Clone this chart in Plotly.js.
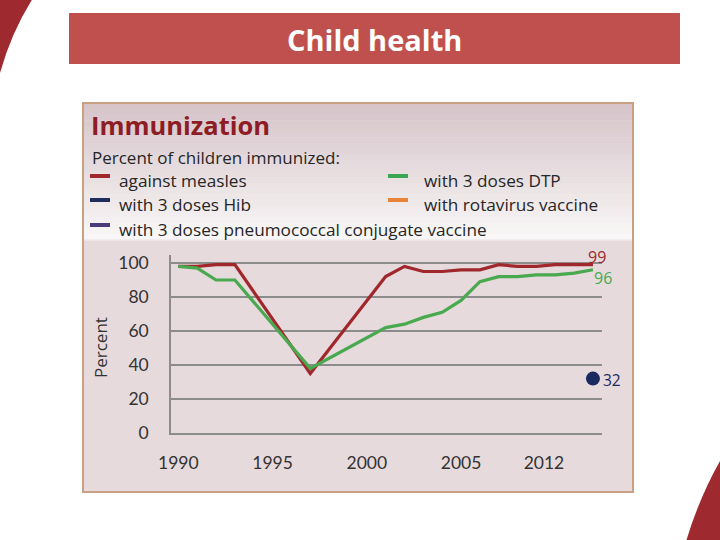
<!DOCTYPE html>
<html>
<head>
<meta charset="utf-8">
<script src="https://cdn.plot.ly/plotly-3.0.1.min.js"></script>
<style>
  html, body { margin: 0; padding: 0; background: #ffffff; }
  #chart { width: 720px; height: 540px; }
</style>
</head>
<body>
<div id="chart"></div>
<script>
// ---- Data ----
const measlesYears = [1990, 1991, 1992, 1993, 1997, 2001, 2002, 2003, 2004, 2005, 2006, 2007, 2008, 2009, 2010, 2011, 2012];
const measlesValues = [98, 98, 99, 99, 35, 92, 98, 95, 95, 96, 96, 99, 98, 98, 99, 99, 99];

const dtpYears = [1990, 1991, 1992, 1993, 1997, 2001, 2002, 2003, 2004, 2005, 2006, 2007, 2008, 2009, 2010, 2011, 2012];
const dtpValues = [98, 97, 90, 90, 38, 62, 64, 68, 71, 78, 89, 92, 92, 93, 93, 94, 96];

const hibYears = [2012];
const hibValues = [32];

const tickPositions = [1990, 1995, 2000, 2005, 2009.4];
const tickLabels = ['1990', '1995', '2000', '2005', '2012'];
const yTicks = [0, 20, 40, 60, 80, 100];

const legendLeft = ['against measles', 'with 3 doses Hib', 'with 3 doses pneumococcal conjugate vaccine'];
const legendLeftColors = ['#a0282d', '#1f2d5c', '#4b3a7a'];
const legendRight = ['with 3 doses DTP', 'with rotavirus vaccine'];
const legendRightColors = ['#3aa650', '#e8833a'];

// ---- Colours / layout ----
const RED = '#a0282d', GREEN = '#48a94f', NAVY = '#1b2a5e';
const SANS = '"Open Sans", Lato, sans-serif';
const TICKF = 'Lato, "Open Sans", sans-serif';
const W = 720, H = 540;
const M = { l: 171, r: 118, t: 255, b: 107 };
const PW = W - M.l - M.r, PH = H - M.t - M.b;
const px = x => (x - M.l) / PW;
const py = y => (H - M.b - y) / PH;
const P = (x, y) => px(x).toFixed(5) + ',' + py(y).toFixed(5);

const shapes = [];
const annotations = [];

function rect(x0, y0, x1, y1, fill, lineColor, lineWidth) {
  shapes.push({
    type: 'rect', xref: 'paper', yref: 'paper', layer: 'below',
    x0: px(x0), x1: px(x1), y0: py(y1), y1: py(y0),
    fillcolor: fill,
    line: { color: lineColor || 'rgba(0,0,0,0)', width: lineWidth || 0 }
  });
}
function text(x, y, t, opts) {
  annotations.push(Object.assign({
    xref: 'paper', yref: 'paper', x: px(x), y: py(y), text: t, showarrow: false,
    xanchor: 'left', yanchor: 'middle',
    font: { family: SANS, size: 16, color: '#262626' }
  }, opts));
}

// decorative crescents
shapes.push({ type: 'path', xref: 'paper', yref: 'paper', layer: 'below',
  path: 'M ' + P(-5, -5) + ' L ' + P(35, -5) + ' Q ' + P(12, 30) + ' ' + P(0, 73) + ' L ' + P(-5, 73) + ' Z',
  fillcolor: '#9e2a2f', line: { width: 0 } });
shapes.push({ type: 'path', xref: 'paper', yref: 'paper', layer: 'below',
  path: 'M ' + P(725, 460) + ' L ' + P(720, 461) + ' Q ' + P(698, 500) + ' ' + P(685, 545) + ' L ' + P(725, 545) + ' Z',
  fillcolor: '#9e2a2f', line: { width: 0 } });

// banner
rect(69, 13, 680, 64, '#c0504d');
text(374, 40, '<b>Child health</b>', { xanchor: 'center',
  font: { family: SANS, size: 29, color: '#ffffff' } });

// header gradient
const gTop = [214, 196, 201], gBot = [248, 246, 246];
const nStrips = 24, hy0 = 103, hy1 = 240;
for (let i = 0; i < nStrips; i++) {
  const t = i / (nStrips - 1);
  const c = gTop.map((v, k) => Math.round(v + (gBot[k] - v) * t));
  const y0 = hy0 + (hy1 - hy0) * i / nStrips;
  const y1 = hy0 + (hy1 - hy0) * (i + 1) / nStrips + 0.5;
  rect(84, y0, 632, Math.min(y1, hy1), 'rgb(' + c.join(',') + ')');
}
// plot panel
rect(84, 240, 632, 491, '#e6dadc');
// outer border
rect(83, 103, 633, 492, 'rgba(0,0,0,0)', '#c9a084', 2);
shapes.push({ type: 'line', xref: 'paper', yref: 'paper', layer: 'below',
  x0: px(84), x1: px(632), y0: py(240), y1: py(240), line: { color: '#efe9ea', width: 1.5 } });

// header texts
text(89, 125, '<b>Immunization</b>', { font: { family: SANS, size: 25.5, color: '#8e1c24' } });
text(90, 157, 'Percent of children immunized:', { font: { family: SANS, size: 17, color: '#262626' } });
const rowY = [180, 204, 229];
legendLeft.forEach((t, i) => {
  rect(90, rowY[i] - 6, 110, rowY[i] - 2, legendLeftColors[i]);
  text(117, rowY[i], t, { font: { family: SANS, size: 17.2, color: '#262626' } });
});
legendRight.forEach((t, i) => {
  rect(388, rowY[i] - 6, 408, rowY[i] - 2, legendRightColors[i]);
  text(422, rowY[i], t, { font: { family: SANS, size: 17.2, color: '#262626' } });
});

// y axis title
text(100, 348, 'Percent', { xanchor: 'center', textangle: -90,
  font: { family: SANS, size: 17, color: '#333333' } });

// end labels
const lastM = measlesValues[measlesValues.length - 1];
const lastD = dtpValues[dtpValues.length - 1];
annotations.push({ xref: 'x', yref: 'y', x: measlesYears[measlesYears.length - 1], y: lastM, text: String(lastM),
  showarrow: false, xanchor: 'left', yanchor: 'middle', xshift: -6, yshift: 8, borderpad: 0,
  font: { family: SANS, size: 16, color: RED } });
annotations.push({ xref: 'x', yref: 'y', x: dtpYears[dtpYears.length - 1], y: lastD, text: String(lastD),
  showarrow: false, xanchor: 'left', yanchor: 'middle', xshift: 0, yshift: -8, borderpad: 0,
  font: { family: SANS, size: 16, color: GREEN } });
annotations.push({ xref: 'x', yref: 'y', x: hibYears[0], y: hibValues[0], text: String(hibValues[0]),
  showarrow: false, xanchor: 'left', yanchor: 'middle', xshift: 8, yshift: -1,
  font: { family: SANS, size: 15.5, color: NAVY } });

const traces = [
  { x: measlesYears, y: measlesValues, type: 'scatter', mode: 'lines', name: 'against measles',
    line: { color: RED, width: 3.2 }, cliponaxis: false },
  { x: dtpYears, y: dtpValues, type: 'scatter', mode: 'lines', name: 'with 3 doses DTP',
    line: { color: GREEN, width: 3.2 }, cliponaxis: false },
  { x: hibYears, y: hibValues, type: 'scatter', mode: 'markers', name: 'with 3 doses Hib',
    marker: { color: NAVY, size: 14 }, cliponaxis: false }
];

const layout = {
  width: W, height: H,
  margin: M,
  paper_bgcolor: '#ffffff',
  plot_bgcolor: 'rgba(0,0,0,0)',
  showlegend: false,
  font: { family: TICKF, color: '#333333' },
  xaxis: {
    range: [1989.61, 2012.48],
    tickvals: tickPositions, ticktext: tickLabels,
    showgrid: false, zeroline: false,
    showline: true, linecolor: '#8c8c8c', linewidth: 1.8,
    ticks: 'outside', ticklen: 13, tickcolor: 'rgba(0,0,0,0)',
    tickfont: { family: TICKF, size: 17.5, color: '#333333' }
  },
  yaxis: {
    range: [0, 104.7],
    tickvals: yTicks,
    showgrid: true, gridcolor: '#8c8c8c', gridwidth: 1.6,
    zeroline: false,
    showline: true, linecolor: '#8c8c8c', linewidth: 1.8,
    ticks: 'outside', ticklen: 17, tickcolor: 'rgba(0,0,0,0)',
    tickfont: { family: TICKF, size: 17.5, color: '#333333' }
  },
  shapes: shapes,
  annotations: annotations
};

Plotly.newPlot('chart', traces, layout, { displayModeBar: false, staticPlot: true });
</script>
</body>
</html>
